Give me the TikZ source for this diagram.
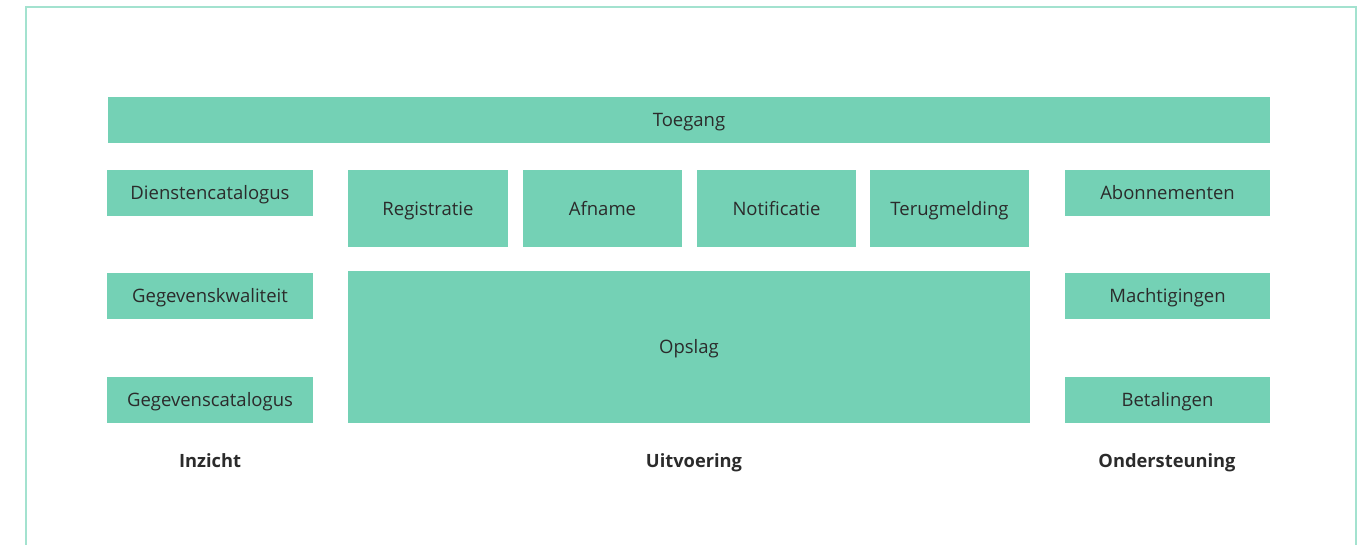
\documentclass[tikz,border=0pt]{standalone}
\usepackage{fontspec}
\setmainfont{Open Sans}
\definecolor{boxfill}{HTML}{74D1B5}
\definecolor{frameline}{HTML}{A3E2CF}
\definecolor{txt}{HTML}{2B2B2B}
\begin{document}
\begin{tikzpicture}[x=1pt,y=-1pt,
  blk/.style={fill=boxfill,draw=none,inner sep=0pt,text=txt,font=\fontsize{18.5}{22}\selectfont,text height=15.5pt,text depth=2pt},
  lbl/.style={text=txt,font=\fontsize{18.3}{22}\selectfont\bfseries,inner sep=0pt,text height=15.5pt,text depth=2pt}]
\useasboundingbox (0,0) rectangle (1368,545);
\draw[frameline,line width=2pt] (26,546) -- (26,7) -- (1356,7) -- (1356,546);
\newcommand{\blkbox}[6]{\node[blk,minimum width=#3-#1,minimum height=#4-#2] (#5) at ({(#1+#3)/2},{(#2+#4)/2}) {#6};}
\blkbox{108}{97}{1270}{143}{toegang}{Toegang}
\blkbox{107}{170}{313}{216}{diensten}{Dienstencatalogus}
\blkbox{107}{273}{313}{319}{kwal}{Gegevenskwaliteit}
\blkbox{107}{377}{313}{423}{gcat}{Gegevenscatalogus}
\blkbox{348}{170}{508}{247}{reg}{Registratie}
\blkbox{523}{170}{682}{247}{afn}{Afname}
\blkbox{697}{170}{856}{247}{not}{Notificatie}
\blkbox{870}{170}{1029}{247}{ter}{Terugmelding}
\blkbox{348}{271}{1030}{423}{ops}{Opslag}
\blkbox{1065}{170}{1270}{216}{abo}{Abonnementen}
\blkbox{1065}{273}{1270}{319}{mach}{Machtigingen}
\blkbox{1065}{377}{1270}{423}{bet}{Betalingen}
\node[lbl] (inz) at (210,461) {Inzicht};
\node[lbl] (uit) at (694,461) {Uitvoering};
\node[lbl] (ond) at (1167,461) {Ondersteuning};
\end{tikzpicture}
\end{document}
